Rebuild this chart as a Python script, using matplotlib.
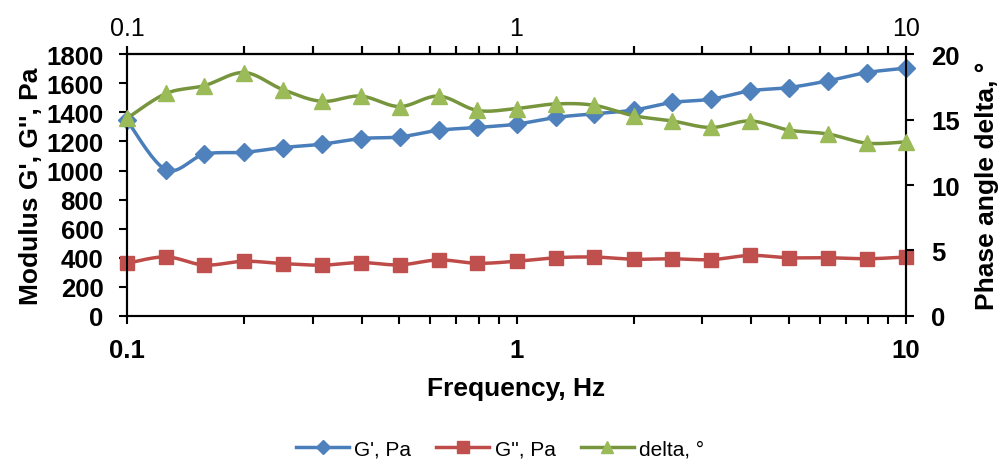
import numpy as np
import matplotlib.pyplot as plt
from matplotlib.lines import Line2D
from matplotlib.ticker import FixedLocator, NullFormatter, FuncFormatter

plt.rcParams['font.family'] = ['Liberation Sans', 'DejaVu Sans']

# frequency sweep, Hz
freq = [0.1, 0.126, 0.158, 0.2, 0.251, 0.316, 0.398, 0.501, 0.631, 0.794, 1.0,
        1.26, 1.58, 2.0, 2.51, 3.16, 3.98, 5.01, 6.31, 7.94, 10.0]
g_storage = [1345, 1005, 1112, 1125, 1158, 1181, 1220, 1231, 1277, 1296, 1319,
             1365, 1390, 1416, 1468, 1491, 1548, 1571, 1617, 1674, 1704]
g_loss = [362, 406, 350, 376, 360, 349, 367, 351, 385, 362, 376,
          400, 405, 390, 393, 387, 416, 400, 400, 393, 405]
delta = [15.1, 17.0, 17.6, 18.6, 17.3, 16.4, 16.8, 16.0, 16.8, 15.7, 15.85,
         16.2, 16.1, 15.3, 14.9, 14.4, 14.9, 14.2, 13.9, 13.2, 13.3]

x_ticks = [0.1, 1, 10]
mod_ticks = list(range(0, 1801, 200))
delta_ticks = [0, 5, 10, 15, 20]


def smooth(x, y, ymin, ymax, n=20):
    # Catmull-Rom curve through the points, worked out in log-x / normalised-y space
    u = np.log10(np.asarray(x, float))
    v = (np.asarray(y, float) - ymin) / (ymax - ymin)
    pts = np.column_stack([u / 2.0, v])
    pts = np.vstack([pts[0], pts, pts[-1]])
    out = []
    t = np.linspace(0, 1, n, endpoint=False)[:, None]
    for i in range(1, len(pts) - 2):
        p0, p1, p2, p3 = pts[i - 1], pts[i], pts[i + 1], pts[i + 2]
        seg = 0.5 * ((2 * p1) + (-p0 + p2) * t + (2 * p0 - 5 * p1 + 4 * p2 - p3) * t ** 2
                     + (-p0 + 3 * p1 - 3 * p2 + p3) * t ** 3)
        out.append(seg)
    out.append(pts[-2][None, :])
    out = np.vstack(out)
    return 10 ** (out[:, 0] * 2.0), out[:, 1] * (ymax - ymin) + ymin


blue_l, blue_m = '#4A7EBB', '#4F81BD'
red_l, red_m = '#BE4B48', '#C0504D'
green_l, green_m = '#77953D', '#9BBB59'

fig = plt.figure(figsize=(10, 4.64), dpi=100)
ax = fig.add_axes([0.127, 0.317, 0.779, 0.564])
ax2 = ax.twinx()

ax.set_xscale('log')
ax.set_xlim(0.1, 10)
ax.set_ylim(0, 1800)
ax2.set_ylim(0, 20)

sx, sy = smooth(freq, g_storage, 0, 1800)
ax.plot(sx, sy, color=blue_l, lw=2.5, zorder=3, clip_on=False)
ax.plot(freq, g_storage, ls='none', marker='D', ms=9.5, color=blue_m, zorder=4, clip_on=False)

sx, sy = smooth(freq, g_loss, 0, 1800)
ax.plot(sx, sy, color=red_l, lw=2.5, zorder=3, clip_on=False)
ax.plot(freq, g_loss, ls='none', marker='s', ms=10.5, color=red_m, zorder=4, clip_on=False)

sx, sy = smooth(freq, delta, 0, 20)
ax2.plot(sx, sy, color=green_l, lw=2.5, zorder=3, clip_on=False)
ax2.plot(freq, delta, ls='none', marker='^', ms=11.5, color=green_m, zorder=4, clip_on=False)

minor = [m * d for d in (0.1, 1) for m in range(2, 10)]
fmt = FuncFormatter(lambda v, p: '%g' % v)

ax.xaxis.set_major_locator(FixedLocator(x_ticks))
ax.xaxis.set_minor_locator(FixedLocator(minor))
ax.xaxis.set_major_formatter(fmt)
ax.xaxis.set_minor_formatter(NullFormatter())
ax.set_yticks(mod_ticks)
ax2.set_yticks(delta_ticks)

for a in (ax, ax2):
    for s in a.spines.values():
        s.set_linewidth(1.5)
    a.tick_params(which='both', direction='out', length=6, width=1.5, labelsize=18.5)
    for lab in a.get_yticklabels():
        lab.set_fontweight('bold')
ax.tick_params(axis='y', pad=11)
ax2.tick_params(axis='y', pad=12)
ax.tick_params(axis='x', which='both', top=True, pad=10)
for lab in ax.get_xticklabels():
    lab.set_fontweight('bold')

top = ax.secondary_xaxis('top')
top.xaxis.set_major_locator(FixedLocator(x_ticks))
top.xaxis.set_minor_locator(FixedLocator(minor))
top.xaxis.set_major_formatter(fmt)
top.xaxis.set_minor_formatter(NullFormatter())
top.tick_params(which='both', direction='out', length=6, width=1.5, labelsize=18, pad=4)
top.spines['top'].set_linewidth(1.5)

ax.set_xlabel('Frequency, Hz', fontsize=19, fontweight='bold', labelpad=10)
ax.set_ylabel("Modulus G', G'', Pa", fontsize=19, fontweight='bold', labelpad=2)
ax2.set_ylabel('Phase angle delta, °', fontsize=19, fontweight='bold', labelpad=11)

handles = [
    Line2D([], [], color=blue_l, lw=2.5, marker='D', ms=7, mfc=blue_m, mec=blue_m),
    Line2D([], [], color=red_l, lw=2.5, marker='s', ms=8, mfc=red_m, mec=red_m),
    Line2D([], [], color=green_l, lw=2.5, marker='^', ms=9, mfc=green_m, mec=green_m),
]
fig.legend(handles, ["G', Pa", "G'', Pa", 'delta, °'], loc='center',
           bbox_to_anchor=(0.5, 0.03), ncol=3, frameon=False, fontsize=15,
           handlelength=2.55, handletextpad=0.25, columnspacing=1.2)

fig.savefig('out.png', dpi=100)
